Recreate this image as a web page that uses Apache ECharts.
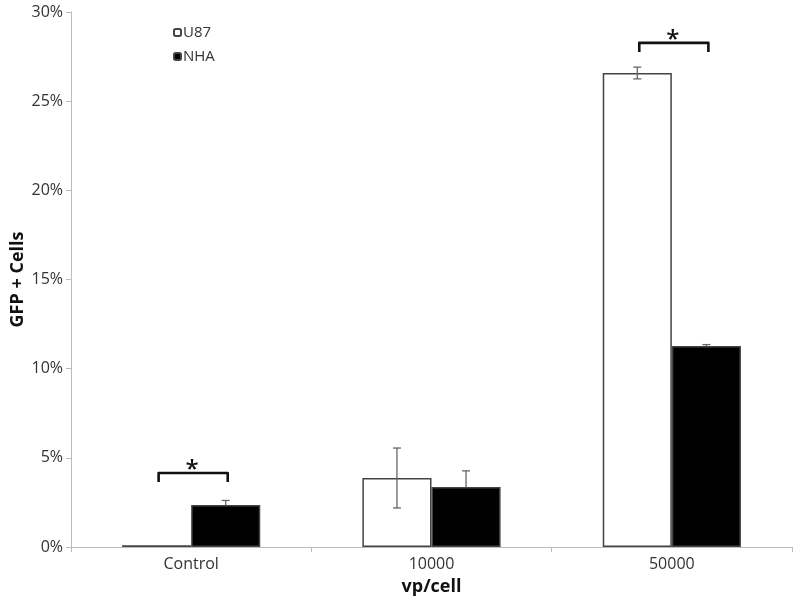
<!DOCTYPE html>
<html>
<head>
<meta charset="utf-8">
<script src="https://cdn.jsdelivr.net/npm/echarts@6/dist/echarts.min.js"></script>
<style>html,body{margin:0;padding:0;background:#fff}#c{width:800px;height:604px}</style>
</head>
<body>
<div id="c"></div>
<script>
var categories = ['Control', '10000', '50000'];
var u87 = [0.1, 3.87, 26.58];
var nha = [2.36, 3.37, 11.27];
var u87Err = [0, 1.68, 0.33];
var nhaErr = [0.25, 0.9, 0.08];
var yTicks = ['0%', '5%', '10%', '15%', '20%', '25%', '30%'];
// significance brackets: [categoryIndex, bracketTop, legBottom]
var brackets = [[0, 4.15, 3.65], [2, 28.27, 27.76]];

var BAR_FRAC = 0.2875;
var FONT = 'Open Sans';

function errRender(side) {
  return function (params, api) {
    var idx = api.value(0);
    var lo = api.value(1), hi = api.value(2);
    var band = api.size([1, 0])[0];
    var bw = band * BAR_FRAC;
    var cx = api.coord([idx, 0])[0] + side * bw / 2;
    var pLo = api.coord([idx, lo])[1];
    var pHi = api.coord([idx, hi])[1];
    var cap = 4;
    var st = { stroke: '#666', lineWidth: 1.3 };
    return {
      type: 'group',
      children: [
        { type: 'line', shape: { x1: cx, y1: pLo, x2: cx, y2: pHi }, style: st },
        { type: 'line', shape: { x1: cx - cap, y1: pHi, x2: cx + cap, y2: pHi }, style: st },
        { type: 'line', shape: { x1: cx - cap, y1: pLo, x2: cx + cap, y2: pLo }, style: st }
      ]
    };
  };
}

function bracketRender(params, api) {
  var idx = api.value(0);
  var top = api.value(1), leg = api.value(2);
  var band = api.size([1, 0])[0];
  var bw = band * BAR_FRAC;
  var c = api.coord([idx, 0])[0];
  var x1 = c - bw / 2 + 2, x2 = c + bw / 2 + 2;
  var yT = api.coord([idx, top])[1];
  var yL = api.coord([idx, leg])[1];
  return {
    type: 'group',
    children: [
      { type: 'polyline', shape: { points: [[x1, yL], [x1, yT], [x2, yT], [x2, yL]] },
        style: { stroke: '#111', lineWidth: 2.6, fill: 'none', lineJoin: 'round' } },
      { type: 'text', style: { text: '*', x: (x1 + x2) / 2 - 1, y: yT - 3, fill: '#111',
        font: '600 24px ' + FONT, align: 'center', verticalAlign: 'middle' } }
    ]
  };
}

var chart = echarts.init(document.getElementById('c'));
chart.setOption({
  animation: false,
  backgroundColor: '#fff',
  textStyle: { fontFamily: FONT },
  grid: { left: 71, right: 8, top: 12, bottom: 57, containLabel: false, outerBoundsMode: 'none' },
  legend: {
    data: ['U87', 'NHA'],
    orient: 'vertical',
    left: 168, top: 20,
    itemWidth: 7, itemHeight: 7, itemGap: 9,
    textStyle: { fontSize: 15, color: '#333', fontFamily: FONT, padding: [0, 0, 0, -3] }
  },
  xAxis: {
    type: 'category',
    data: categories,
    name: 'vp/cell',
    nameLocation: 'middle',
    nameGap: 31,
    nameMoveOverlap: false,
    nameTextStyle: { fontSize: 18, fontWeight: 'bold', color: '#111', fontFamily: FONT },
    axisLine: { lineStyle: { color: '#bbb', width: 1 } },
    axisTick: { show: true, alignWithLabel: false, length: 5, lineStyle: { color: '#bbb' } },
    axisLabel: { fontSize: 16, color: '#333', margin: 9, fontFamily: FONT }
  },
  yAxis: {
    type: 'value',
    min: 0, max: 30, interval: 5,
    name: 'GFP + Cells',
    nameLocation: 'middle',
    nameGap: 44,
    nameMoveOverlap: false,
    nameTextStyle: { fontSize: 18, fontWeight: 'bold', color: '#111', fontFamily: FONT },
    axisLine: { show: true, lineStyle: { color: '#bbb', width: 1 } },
    axisTick: { show: true, length: 5, lineStyle: { color: '#bbb' } },
    splitLine: { show: false },
    axisLabel: {
      fontSize: 16, color: '#333', margin: 8, fontFamily: FONT,
      formatter: function (v) { return yTicks[Math.round(v / 5)]; }
    }
  },
  series: [
    {
      name: 'U87', type: 'bar', data: u87, barWidth: (BAR_FRAC * 100) + '%', barGap: '0%',
      itemStyle: { color: '#fff', borderColor: '#444', borderWidth: 1.5 }, z: 2
    },
    {
      name: 'NHA', type: 'bar', data: nha, barWidth: (BAR_FRAC * 100) + '%', barGap: '0%',
      itemStyle: { color: '#000', borderColor: '#444', borderWidth: 1.5 }, z: 2
    },
    {
      type: 'custom', renderItem: errRender(-1), z: 5, silent: true,
      data: u87.map(function (v, i) { return [i, v - u87Err[i], v + u87Err[i]]; })
        .filter(function (d, i) { return u87Err[i] > 0; })
    },
    {
      type: 'custom', renderItem: errRender(1), z: 1, silent: true,
      data: nha.map(function (v, i) { return [i, v - nhaErr[i], v + nhaErr[i]]; })
    },
    {
      type: 'custom', renderItem: bracketRender, z: 6, silent: true,
      data: brackets
    }
  ]
});
</script>
</body>
</html>
